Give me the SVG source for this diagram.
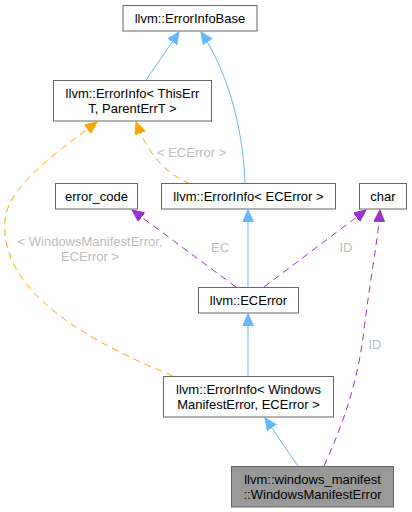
<svg xmlns="http://www.w3.org/2000/svg" width="412" height="512" viewBox="0 0 412 512">
<style>
.n rect{fill:#ffffff;stroke:#666666;stroke-width:1}
.n.hl rect{fill:#999999}
text{font-family:"Liberation Sans",Arial,Helvetica,sans-serif;font-size:13px;fill:#000000}
.lbl{fill:#bdbdbd}
.e path{fill:none;stroke-width:1}
.blue{stroke:#63b8ff}
.orange{stroke:#ffa500;stroke-dasharray:7,5}
.purple{stroke:#9a32cd;stroke-dasharray:7,5}
</style>
<defs>
<marker id="ab" markerUnits="userSpaceOnUse" markerWidth="14" markerHeight="12" refX="12" refY="5.5" orient="auto"><path d="M0,0 L12,5.5 L0,11 z" fill="#63b8ff" stroke="#63b8ff"/></marker>
<marker id="ao" markerUnits="userSpaceOnUse" markerWidth="14" markerHeight="12" refX="12" refY="5.5" orient="auto"><path d="M0,0 L12,5.5 L0,11 z" fill="#ffa500" stroke="#ffa500"/></marker>
<marker id="ap" markerUnits="userSpaceOnUse" markerWidth="14" markerHeight="12" refX="12" refY="5.5" orient="auto"><path d="M0,0 L12,5.5 L0,11 z" fill="#9a32cd" stroke="#9a32cd"/></marker>
</defs>
<g id="edges" class="e">
<path class="blue" d="M146,80 L179,32" marker-end="url(#ab)"/>
<path class="blue" d="M245,184 C244,140 232,78 201,32" marker-end="url(#ab)"/>
<path class="orange" d="M190,184 C170,175 150,160 136,122" marker-end="url(#ao)"/>
<path class="blue" d="M248,287 L248,210" marker-end="url(#ab)"/>
<path class="purple" d="M236,287 L132,210" marker-end="url(#ap)"/>
<path class="purple" d="M264,287 L366,210" marker-end="url(#ap)"/>
<path class="blue" d="M248,376 L248,314" marker-end="url(#ab)"/>
<path class="orange" d="M173,376 C60,330 0,280 5,220 C8,185 60,150 97,122" marker-end="url(#ao)"/>
<path class="blue" d="M298,466 L265,418" marker-end="url(#ab)"/>
<path class="purple" d="M324,466 C345,420 358,380 364,330 C370,280 378,240 380,210" marker-end="url(#ap)"/>
<text class="lbl" x="157" y="157">&lt; ECError &gt;</text>
<text class="lbl" x="90" y="246" text-anchor="middle">&lt; WindowsManifestError,</text>
<text class="lbl" x="90" y="261" text-anchor="middle">ECError &gt;</text>
<text class="lbl" x="220" y="252" text-anchor="middle">EC</text>
<text class="lbl" x="346" y="252" text-anchor="middle">ID</text>
<text class="lbl" x="375" y="349" text-anchor="middle">ID</text>
</g>
<g id="ErrorInfoBase" class="n"><rect x="123" y="5.5" width="134" height="25.5"/><text x="190" y="23" text-anchor="middle">llvm::ErrorInfoBase</text></g>
<g id="ErrorInfoThisErrT" class="n"><rect x="53.5" y="80.5" width="158" height="40.5"/><text x="132.5" y="97.5" text-anchor="middle">llvm::ErrorInfo&lt; ThisErr</text><text x="132.5" y="112.5" text-anchor="middle">T, ParentErrT &gt;</text></g>
<g id="error_code" class="n"><rect x="55.5" y="183.5" width="82" height="25.5"/><text x="96.5" y="201" text-anchor="middle">error_code</text></g>
<g id="ErrorInfoECError" class="n"><rect x="161.5" y="183.5" width="174" height="25.5"/><text x="248.5" y="201" text-anchor="middle">llvm::ErrorInfo&lt; ECError &gt;</text></g>
<g id="char" class="n"><rect x="359.5" y="183.5" width="47" height="25.5"/><text x="383" y="201" text-anchor="middle">char</text></g>
<g id="ECError" class="n"><rect x="198.5" y="287.5" width="100" height="25.5"/><text x="248.5" y="305" text-anchor="middle">llvm::ECError</text></g>
<g id="ErrorInfoWME" class="n"><rect x="163.5" y="376.5" width="170" height="40.5"/><text x="248.5" y="393.5" text-anchor="middle">llvm::ErrorInfo&lt; Windows</text><text x="248.5" y="408.5" text-anchor="middle">ManifestError, ECError &gt;</text></g>
<g id="WindowsManifestError" class="n hl"><rect x="231.5" y="466.5" width="162" height="40.5"/><text x="312.5" y="483.5" text-anchor="middle">llvm::windows_manifest</text><text x="312.5" y="498.5" text-anchor="middle">::WindowsManifestError</text></g>
</svg>
